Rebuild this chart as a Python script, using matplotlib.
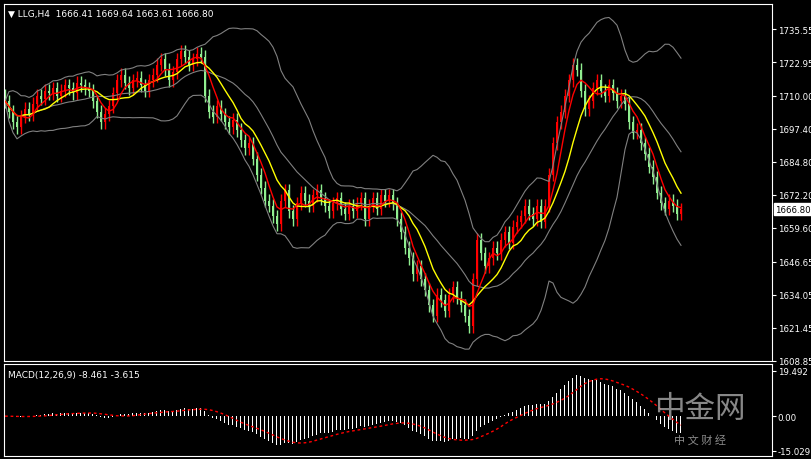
import matplotlib
matplotlib.use("Agg")
import matplotlib.pyplot as plt
import numpy as np
import pandas as pd

closes = [1708,1704,1700,1698,1702,1705,1703,1707,1710,1709,
          1712,1711,1713,1710,1712,1714,1713,1711,1715,1714,
          1713,1712,1708,1704,1700,1703,1706,1711,1716,1718,
          1715,1713,1716,1717,1714,1712,1716,1718,1722,1724,
          1720,1716,1719,1724,1727,1725,1722,1724,1726,1725,
          1710,1704,1702,1706,1703,1700,1698,1701,1697,1693,
          1690,1692,1686,1680,1675,1670,1668,1664,1661,1670,
          1674,1666,1663,1669,1673,1670,1668,1672,1674,1671,
          1668,1666,1669,1671,1667,1665,1668,1666,1669,1671,
          1663,1668,1671,1667,1672,1670,1672,1669,1663,1658,
          1652,1648,1642,1645,1640,1636,1630,1626,1634,1632,
          1628,1634,1637,1633,1630,1626,1622,1640,1655,1650,
          1645,1648,1652,1650,1655,1658,1654,1660,1662,1664,
          1668,1665,1663,1668,1662,1668,1680,1692,1700,1704,
          1710,1716,1722,1720,1712,1705,1708,1713,1716,1712,
          1710,1714,1711,1708,1710,1707,1700,1696,1697,1692,
          1688,1683,1679,1673,1669,1667,1670,1668,1665,1666.8]
first_open = 1710
price_ticks = [1735.55,1722.95,1710.00,1697.40,1684.80,1672.20,1659.60,1646.65,1634.05,1621.45,1608.85]
macd_ticks = [19.492, 0.00, -15.029]
title = "LLG,H4  1666.41 1669.64 1663.61 1666.80"

c = pd.Series(closes, dtype=float)
o = c.shift(1).fillna(first_open)
n = len(c)
x = np.arange(n)
hi = np.maximum(o, c) + 2.5
lo = np.minimum(o, c) - 2.5

ma_fast = c.rolling(5, min_periods=1).mean()
ma_slow = c.rolling(10, min_periods=1).mean()
mid = c.rolling(20, min_periods=1).mean()
sd = c.rolling(20, min_periods=1).std().fillna(0)
up_b, lo_b = mid + 2*sd, mid - 2*sd
macd = c.ewm(span=12).mean() - c.ewm(span=26).mean()
sig = macd.rolling(9, min_periods=1).mean()

W, H = 812, 460
fig = plt.figure(figsize=(W/100, H/100), dpi=100, facecolor="black")
def frac(l, t, r, b):
    return [l/W, 1-b/H, (r-l)/W, (b-t)/H]
ax = fig.add_axes(frac(4, 5, 772, 362), facecolor="black")
ax2 = fig.add_axes(frac(4, 365, 772, 457), facecolor="black")

for i in range(n):
    col = "#ff0000" if c[i] > o[i] else "#90ee90"
    ax.vlines(x[i], lo[i], hi[i], color=col, lw=1)
    ax.bar(x[i], abs(c[i]-o[i]) or 0.3, bottom=min(c[i], o[i]), width=0.6, color=col, lw=0)
ax.plot(x, up_b, color="#808080", lw=0.8)
ax.plot(x, mid, color="#808080", lw=0.8)
ax.plot(x, lo_b, color="#808080", lw=0.8)
ax.plot(x, ma_slow, color="yellow", lw=1)
ax.plot(x, ma_fast, color="red", lw=1)

ax2.bar(x, macd, width=0.25, color="white", lw=0)
ax2.plot(x, sig, color="red", lw=1, ls=(0, (2, 2)))

for a, lim in ((ax, (1608.8, 1745.1)), (ax2, (-17.2, 22.5))):
    a.set_xlim(-0.25, 191.75)
    a.set_ylim(*lim)
    a.set_xticks([])
    a.yaxis.tick_right()
    a.tick_params(axis="y", colors="white", labelsize=6.2, length=3, pad=1)
    for s in a.spines.values():
        s.set_color("white")
ax.set_yticks(price_ticks)
ax.set_yticklabels([f"{v:.2f}" for v in price_ticks])
ax2.set_yticks(macd_ticks)
ax2.set_yticklabels(["19.492", "0.00", "-15.029"])

ax.text(0.005, 0.985, "\u25bc " + title, transform=ax.transAxes, color="white", fontsize=6.5, va="top")
ax2.text(0.005, 0.93, "MACD(12,26,9) -8.461 -3.615", transform=ax2.transAxes, color="white", fontsize=6.5, va="top")
ax.text(1.004, (1666.8-1608.8)/(1745.1-1608.8), "1666.80", transform=ax.transAxes, fontsize=6.2,
        color="black", va="center", bbox=dict(facecolor="white", edgecolor="white", pad=1))
fig.text(700/W, 1-410/H, "中金网", family=["Noto Sans CJK SC", "DejaVu Sans"], fontsize=22,
         color="#aaaaaa", alpha=0.8, ha="center", va="center")
fig.text(700/W, 1-440/H, "中 文 财 经", family=["Noto Sans CJK SC", "DejaVu Sans"], fontsize=8,
         color="#aaaaaa", alpha=0.8, ha="center", va="center")
fig.savefig("out.png", dpi=100, facecolor="black")
